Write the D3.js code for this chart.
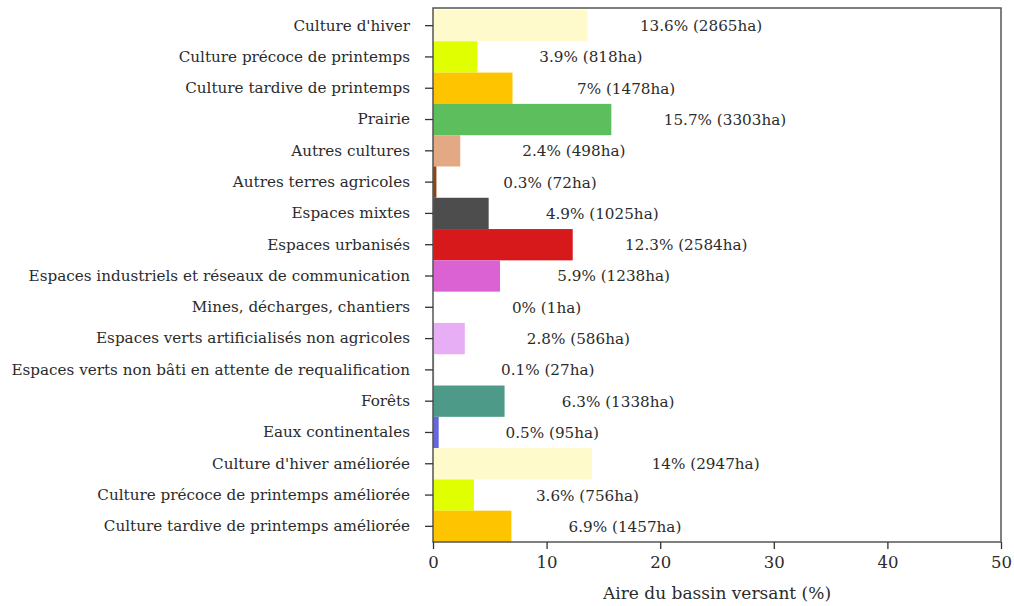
<!DOCTYPE html>
<html><head><meta charset="utf-8">
<script src="https://cdn.jsdelivr.net/npm/d3@7"></script>
<style>
html,body{margin:0;padding:0;background:#fff;}
svg text{font-family:"DejaVu Serif",serif;fill:#2b2b2b;}
</style></head>
<body><svg id="chart" width="1014" height="606"></svg>
<script>
const categories = [
  "Culture d'hiver",
  "Culture précoce de printemps",
  "Culture tardive de printemps",
  "Prairie",
  "Autres cultures",
  "Autres terres agricoles",
  "Espaces mixtes",
  "Espaces urbanisés",
  "Espaces industriels et réseaux de communication",
  "Mines, décharges, chantiers",
  "Espaces verts artificialisés non agricoles",
  "Espaces verts non bâti en attente de requalification",
  "Forêts",
  "Eaux continentales",
  "Culture d'hiver améliorée",
  "Culture précoce de printemps améliorée",
  "Culture tardive de printemps améliorée"
];
const percents = [13.6, 3.9, 7, 15.7, 2.4, 0.3, 4.9, 12.3, 5.9, 0, 2.8, 0.1, 6.3, 0.5, 14, 3.6, 6.9];
const hectares = [2865, 818, 1478, 3303, 498, 72, 1025, 2584, 1238, 1, 586, 27, 1338, 95, 2947, 756, 1457];
const colors = ["#fffacb", "#e0ff00", "#ffc400", "#5dbe5d", "#e3a985", "#8b4513", "#4d4d4d", "#d7191c",
  "#da62d3", "#a0a0a0", "#e8aef5", "#9bc29b", "#4e9a88", "#6666dd", "#fffacb", "#e0ff00", "#ffc400"];
const xTicks = [0, 10, 20, 30, 40, 50];
const xTitle = "Aire du bassin versant (%)";

const svg = d3.select("#chart");
const L = 433, R = 1001, T = 8, B = 542;
const x = d3.scaleLinear().domain([0, 50]).range([L, R]);
const y = d3.scaleBand().domain(categories).range([10, B]).padding(0);

const fs = 15.2;
const font = "'DejaVu Serif',serif";

svg.append("g").selectAll("rect").data(categories).join("rect")
  .attr("x", x(0))
  .attr("y", d => y(d))
  .attr("width", (d, i) => x(percents[i]) - x(0))
  .attr("height", y.bandwidth())
  .attr("fill", (d, i) => colors[i]);

svg.append("g").selectAll("text").data(categories).join("text")
  .attr("x", (d, i) => x(percents[i] + 10))
  .attr("y", d => y(d) + y.bandwidth() / 2)
  .attr("dy", "0.36em")
  .attr("text-anchor", "middle")
  .style("font-size", fs + "px")
  .text((d, i) => percents[i] + "% (" + hectares[i] + "ha)");

// frame
svg.append("rect").attr("x", L).attr("y", T).attr("width", R - L).attr("height", B - T)
  .attr("fill", "none").attr("stroke", "#555").attr("stroke-width", 1.5);

const yAxis = svg.append("g").attr("transform", `translate(${L},0)`)
  .call(d3.axisLeft(y).tickSize(8).tickPadding(15));
yAxis.select(".domain").remove();
yAxis.selectAll(".tick line").attr("stroke", "#333").attr("stroke-width", 1.3);
yAxis.selectAll(".tick text").style("font-size", fs + "px").attr("fill", "#2b2b2b")
  .style("font-family", font);

const xAxis = svg.append("g").attr("transform", `translate(0,${B})`)
  .call(d3.axisBottom(x).tickValues(xTicks).tickSize(7).tickPadding(7));
xAxis.select(".domain").remove();
xAxis.selectAll(".tick line").attr("stroke", "#333").attr("stroke-width", 1.3);
xAxis.selectAll(".tick text").style("font-size", "16.5px").attr("fill", "#2b2b2b")
  .style("font-family", font);

svg.append("text").attr("x", (L + R) / 2).attr("y", 599)
  .attr("text-anchor", "middle").style("font-size", "17px").text(xTitle);
</script></body></html>
